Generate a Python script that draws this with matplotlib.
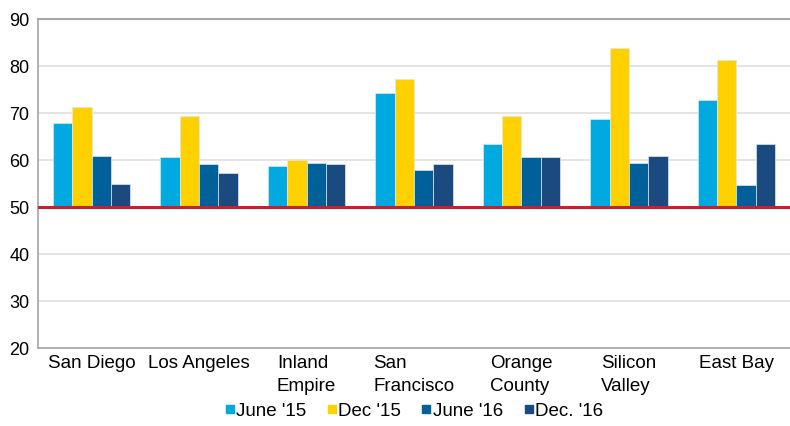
import numpy as np
import matplotlib
import matplotlib.pyplot as plt
from matplotlib.lines import Line2D
matplotlib.use('Agg')

regions = ['San Diego', 'Los Angeles', 'Inland\nEmpire', 'San\nFrancisco',
           'Orange\nCounty', 'Silicon\nValley', 'East Bay']
series_names = ["June '15", "Dec '15", "June '16", "Dec. '16"]
june_15 = [68.0, 60.6, 58.7, 74.3, 63.5, 68.7, 72.8]
dec_15 = [71.3, 69.4, 60.1, 77.2, 69.4, 83.9, 81.3]
june_16 = [60.9, 59.1, 59.4, 58.0, 60.6, 59.4, 54.6]
dec_16 = [55.0, 57.2, 59.1, 59.1, 60.6, 60.9, 63.5]
colors = ['#00A9E0', '#FFD100', '#00609A', '#1B4A80']
baseline = 50

plt.rcParams['font.family'] = ['Liberation Sans', 'DejaVu Sans']

fig = plt.figure(figsize=(7.9, 4.26), dpi=100)
ax = fig.add_axes([0.048, 0.183, 0.952, 0.772])

x = np.arange(len(regions))
width = 0.18
all_series = [june_15, dec_15, june_16, dec_16]
for i, vals in enumerate(all_series):
    heights = [v - baseline for v in vals]
    ax.bar(x + (i - 1.5) * width, heights, width, bottom=baseline,
           color=colors[i], edgecolor='#dfe8f0', linewidth=0.5, zorder=3)

ax.axhline(baseline, color='#C8202F', linewidth=2.2, zorder=4)

ax.set_ylim(20, 90)
ax.set_xlim(-0.5, len(regions) - 0.5)
ax.set_yticks(range(20, 91, 10))
ax.yaxis.grid(True, color='#dcdcdc', linewidth=1.1, zorder=0)
ax.set_axisbelow(True)

ax.set_xticks(x)
ax.set_xticklabels(regions, multialignment='left', fontsize=13.5,
                   linespacing=1.45)
ax.tick_params(axis='both', length=0)
ax.tick_params(axis='y', labelsize=13, pad=6)
ax.tick_params(axis='x', pad=5)

for side in ['left', 'bottom']:
    ax.spines[side].set_color('#a6a6a6')
    ax.spines[side].set_linewidth(1.2)
ax.spines['right'].set_visible(False)
ax.spines['top'].set_color('#a6a6a6')
ax.spines['top'].set_linewidth(1.5)

handles = [Line2D([], [], marker='s', linestyle='none', markersize=6,
                  markerfacecolor=c, markeredgecolor=c) for c in colors]
fig.legend(handles, series_names, loc='lower center', ncol=4,
           bbox_to_anchor=(0.523, -0.025), frameon=False, handletextpad=0.0,
           columnspacing=1.0, handlelength=0.7, prop={'size': 13.5})

fig.savefig('out.png', dpi=100)
